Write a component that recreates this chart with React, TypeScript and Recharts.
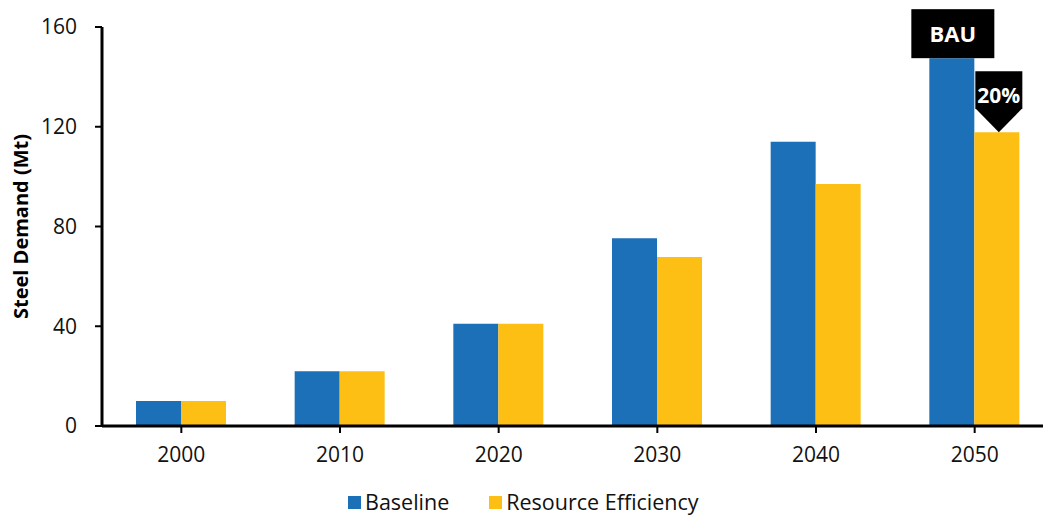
import React from 'react';
import { BarChart, Bar, XAxis, YAxis, Legend } from 'recharts';

// steel demand (Mt) by year
const years = ['2000', '2010', '2020', '2030', '2040', '2050'];
const baseline = [10, 22, 41, 75.3, 114, 147.5];
const efficiency = [10, 22, 41, 67.8, 97, 117.8];
const yTicks = [0, 40, 80, 120, 160];

const data = years.map((year, i) => ({
  year,
  baseline: baseline[i],
  efficiency: efficiency[i],
}));

const BLUE = '#1B70B8';
const YELLOW = '#FDBF14';
const FONT = '"Open Sans", sans-serif';

function BauLabel(props: any) {
  const { x, y, width, index } = props;
  if (index !== years.length - 1) return null;
  const cx = x + width / 2 + 1;
  const w = 83;
  const h = 49;
  return (
    <g>
      <rect x={cx - w / 2} y={y - h} width={w} height={h} fill="#000" />
      <text x={cx} y={y - h / 2 + 8} textAnchor="middle" fill="#fff" fontFamily={FONT} fontWeight={700} fontSize={22}>
        BAU
      </text>
    </g>
  );
}

function DropLabel(props: any) {
  const { x, y, width, index } = props;
  if (index !== years.length - 1) return null;
  const cx = x + width / 2 + 2;
  const hw = 23.5;
  const top = y - 61;
  const shoulder = y - 24;
  const pts = `${cx - hw},${top} ${cx + hw},${top} ${cx + hw},${shoulder} ${cx},${y} ${cx - hw},${shoulder}`;
  return (
    <g>
      <polygon points={pts} fill="#000" />
      <text x={cx} y={y - 37 + 8} textAnchor="middle" fill="#fff" fontFamily={FONT} fontWeight={700} fontSize={21}>
        20%
      </text>
    </g>
  );
}

function LegendBox() {
  const item = (color: string, text: string, gap: number) => (
    <span style={{ display: 'inline-flex', alignItems: 'center', marginRight: gap }}>
      <span style={{ width: 13, height: 13, background: color, display: 'inline-block', marginRight: 4 }} />
      <span>{text}</span>
    </span>
  );
  return (
    <div style={{ fontFamily: FONT, fontSize: 21.5, lineHeight: '24px', color: '#111', display: 'flex', alignItems: 'center', height: 32, paddingTop: 4, boxSizing: 'border-box' }}>
      {item(BLUE, 'Baseline', 40)}
      {item(YELLOW, 'Resource Efficiency', 0)}
    </div>
  );
}

export default function App() {
  return (
    <div style={{ position: 'absolute', left: 0, top: 0, width: 1043, height: 516, overflow: 'hidden', background: '#fff' }}>
      <BarChart
        width={1060}
        height={516}
        data={data}
        margin={{ top: 27, right: 6, bottom: 0, left: 1 }}
        barGap={0}
        barSize={45}
      >
        <XAxis
          dataKey="year"
          height={58}
          axisLine={{ stroke: '#000', strokeWidth: 3 }}
          tickLine={{ stroke: '#000', strokeWidth: 2 }}
          tickSize={7}
          tickMargin={14}
          tick={{ fill: '#111', fontSize: 21, fontFamily: FONT }}
        />
        <YAxis
          width={101}
          domain={[0, 160]}
          ticks={yTicks}
          interval={0}
          axisLine={{ stroke: '#000', strokeWidth: 3 }}
          tickLine={{ stroke: '#000', strokeWidth: 2 }}
          tickSize={7}
          tickMargin={18}
          tick={{ fill: '#111', fontSize: 21, fontFamily: FONT }}
          label={{
            value: 'Steel Demand (Mt)',
            angle: -90,
            position: 'insideLeft',
            offset: 20,
            style: { textAnchor: 'middle', fontFamily: FONT, fontWeight: 700, fontSize: 20, fill: '#000' },
          }}
        />
        <Legend
          verticalAlign="bottom"
          height={32}
          wrapperStyle={{ left: 348, width: 520 }}
          content={() => <LegendBox />}
        />
        <Bar dataKey="baseline" name="Baseline" fill={BLUE} isAnimationActive={false} label={<BauLabel />} />
        <Bar dataKey="efficiency" name="Resource Efficiency" fill={YELLOW} isAnimationActive={false} label={<DropLabel />} />
      </BarChart>
    </div>
  );
}
